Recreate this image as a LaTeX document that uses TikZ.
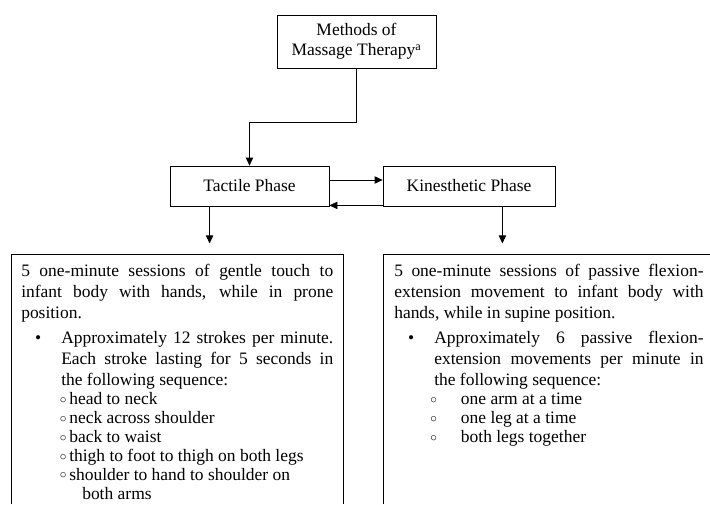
\documentclass[tikz,border=0pt]{standalone}
\usepackage{fontspec}
\setmainfont{Liberation Serif}
\usetikzlibrary{arrows.meta}

\newcommand{\subdot}{\raisebox{1pt}{\fontsize{10}{10}\selectfont$\circ$}}
\newenvironment{bulletlist}{\begin{list}{\textbullet}{\setlength{\topsep}{3pt}\setlength{\partopsep}{0pt}\setlength{\itemsep}{0pt}\setlength{\parsep}{0pt}\setlength{\labelwidth}{10pt}\setlength{\leftmargin}{30pt}\setlength{\labelsep}{15pt}}}{\end{list}}
\newenvironment{seqlist}[2]{\par\fontsize{13.1}{14.2}\selectfont\begin{list}{\subdot}{\setlength{\topsep}{0pt}\setlength{\partopsep}{0pt}\setlength{\itemsep}{0pt}\setlength{\parsep}{0pt}\setlength{\labelwidth}{10pt}\setlength{\leftmargin}{#1}\setlength{\labelsep}{#2}}}{\end{list}}

\begin{document}
\begin{tikzpicture}[x=0.75pt, y=-0.75pt,
  box/.style={draw, line width=0.6pt, inner sep=0pt, align=center, font=\fontsize{13.1}{15.2}\selectfont},
  txt/.style={anchor=north west, inner ysep=7.3pt, align=justify, font=\fontsize{13.1}{15.8}\selectfont,
    execute at begin node={\setlength{\parindent}{0pt}\hyphenpenalty=10000}},
  link/.style={line width=0.6pt, -{Triangle[length=6pt, width=5.5pt]}},
  edge/.style={line width=0.6pt}]

\useasboundingbox (0,0) rectangle (710,504);
\coordinate (bot) at (0,504);
\coordinate (corner) at (710,504);

% Boxes
\node[box, minimum width=119.25pt, minimum height=39.75pt] (meth) at (356.5,41.5) {Methods of\\Massage Therapy\textsuperscript{a}};
\node[box, minimum width=119.25pt, minimum height=30pt] (tact) at (249.5,186) {Tactile Phase};
\node[box, minimum width=129pt, minimum height=30pt] (kin) at (469,186) {Kinesthetic Phase};

% Arrows
\draw[link] (meth.south) -- ++(0,54) -| (tact.north);
\draw[link] ([yshift=4.5pt]tact.east) -- ([yshift=4.5pt]kin.west);
\draw[link] ([yshift=0.75pt]kin.south west) -- ([yshift=0.75pt]tact.south east);
\draw[link] ([xshift=30pt]tact.south west) -- ++(0,37);
\draw[link] ([xshift=-39.75pt]kin.south east) -- ++(0,37);

% Texts of the two phases
\node[txt, text width=234pt, inner xsep=7.5pt] (tacttxt) at (11,254) {%
5 one-minute sessions of gentle touch to\linebreak infant body with hands, while in prone\linebreak position.
\begin{bulletlist}
\item Approximately 12 strokes per minute.\linebreak Each stroke lasting for 5 seconds in\linebreak the following sequence:
\begin{seqlist}{6pt}{2pt}
\item head to neck
\item neck across shoulder
\item back to waist
\item thigh to foot to thigh on both legs
\item shoulder to hand to shoulder on\\\hspace*{9.75pt}both arms
\end{seqlist}
\end{bulletlist}};
\node[txt, text width=232pt, inner xsep=8.25pt] (kintxt) at (383,254) {%
5 one-minute sessions of passive flexion-\linebreak extension movement to infant body with\linebreak hands, while in supine position.
\begin{bulletlist}
\item Approximately 6 passive flexion-\linebreak extension movements per minute in\linebreak the following sequence:
\begin{seqlist}{20pt}{18pt}
\item one arm at a time
\item one leg at a time
\item both legs together
\end{seqlist}
\end{bulletlist}};

% Open frames
\draw[edge] (tacttxt.north west |- bot) -- (tacttxt.north west) -- (tacttxt.north east) -- (tacttxt.north east |- bot);
\draw[edge] (kintxt.north west |- bot) -- (kintxt.north west) -- (kintxt.north west -| corner);

\end{tikzpicture}
\end{document}
